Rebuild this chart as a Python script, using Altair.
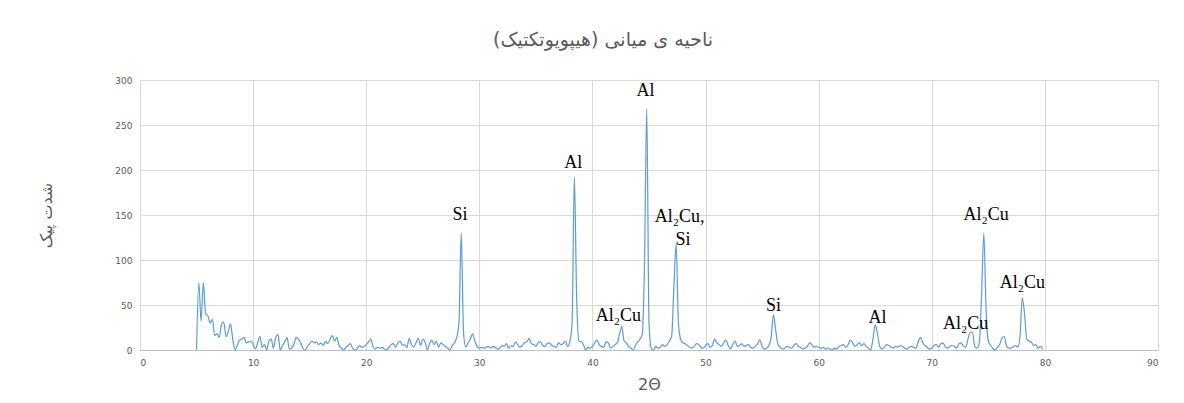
import altair as alt
import pandas as pd

# 2-theta sampling grid (start, step) and intensity values per degree (5 values: .0 .2 .4 .6 .8)
theta_start = 5.0
theta_step = 0.2
intensity_rows = [
    [0, 75, 32, 75, 40],      # 5
    [38, 30, 34, 16, 18],     # 6
    [14, 28, 31, 15, 20],     # 7
    [29, 12, 0, 5, 11],       # 8
    [12, 14, 8, 9, 10],       # 9
    [6, 1, 8, 15, 3],         # 10
    [6, 0, 10, 12, 2],        # 11
    [14, 17, 0, 5, 9],        # 12
    [14, 1, 2, 6, 14],        # 13
    [12, 8, 2, 0, 4],         # 14
    [7, 10, 8, 9, 6],         # 15
    [8, 5, 10, 7, 12],        # 16
    [16, 10, 14, 5, 2],       # 17
    [0, 3, 5, 7, 2],          # 18
    [0, 1, 5, 3, 4],          # 19
    [6, 9, 12, 4, 1],         # 20
    [3, 2, 3, 1, 0],          # 21
    [3, 6, 7, 3, 8],          # 22
    [10, 5, 6, 3, 13],        # 23
    [6, 3, 8, 13, 5],         # 24
    [12, 9, 0, 7, 11],        # 25
    [6, 10, 3, 8, 6],         # 26
    [4, 2, 0, 5, 8],          # 27
    [14, 30, 130, 20, 3],     # 28
    [8, 12, 18, 10, 4],       # 29
    [2, 3, 2, 3, 4],          # 30
    [2, 4, 3, 1, 2],          # 31
    [5, 4, 7, 2, 5],          # 32
    [4, 9, 6, 3, 5],          # 33
    [8, 9, 13, 7, 6],         # 34
    [4, 8, 9, 5, 4],          # 35
    [7, 8, 5, 4, 3],          # 36
    [8, 6, 7, 10, 4],         # 37
    [9, 30, 192, 60, 10],     # 38
    [9, 6, 0, 3, 2],          # 39
    [4, 8, 11, 6, 4],         # 40
    [3, 9, 8, 2, 4],          # 41
    [6, 8, 18, 26, 10],       # 42
    [8, 4, 2, 0, 5],          # 43
    [9, 12, 17, 95, 268],     # 44
    [30, 2, 0, 4, 2],         # 45
    [3, 6, 4, 6, 10],         # 46
    [15, 70, 118, 30, 12],    # 47
    [8, 7, 5, 3, 2],          # 48
    [4, 7, 6, 3, 2],          # 49
    [5, 7, 3, 5, 12],         # 50
    [8, 6, 4, 8, 11],         # 51
    [5, 1, 6, 10, 4],         # 52
    [5, 7, 4, 5, 6],          # 53
    [3, 2, 4, 7, 11],         # 54
    [4, 1, 2, 5, 14],         # 55
    [39, 22, 6, 3, 1],        # 56
    [2, 4, 3, 2, 5],          # 57
    [7, 4, 3, 1, 2],          # 58
    [4, 8, 6, 3, 4],          # 59
    [3, 2, 3, 1, 2],          # 60
    [1, 0, 2, 1, 4],          # 61
    [5, 6, 3, 6, 11],         # 62
    [8, 4, 6, 8, 5],          # 63
    [7, 4, 2, 0, 12],         # 64
    [28, 18, 4, 1, 3],        # 65
    [6, 5, 3, 2, 4],          # 66
    [3, 5, 4, 2, 1],          # 67
    [3, 4, 3, 2, 9],          # 68
    [14, 8, 5, 3, 1],         # 69
    [2, 5, 6, 3, 7],          # 70
    [8, 3, 2, 4, 5],          # 71
    [4, 2, 7, 8, 4],          # 72
    [3, 12, 20, 19, 4],       # 73
    [2, 8, 60, 130, 45],      # 74
    [10, 5, 2, 0, 3],         # 75
    [6, 13, 15, 5, 2],        # 76
    [2, 4, 5, 3, 15],         # 77
    [58, 40, 12, 10, 9],      # 78
    [5, 6, 2, 4, 1],          # 79
]

label_text = ["Si", "Al", "Al", "Al₂Cu", "Al₂Cu,", "Si", "Si", "Al", "Al₂Cu", "Al₂Cu", "Al₂Cu"]
label_x = [28.3, 38.3, 44.7, 42.3, 47.7, 48.0, 56.0, 65.2, 73.0, 74.8, 78.0]
label_y = [150, 208, 288, 38, 148, 122, 49, 36, 29, 150, 74]

x_ticks = [0, 10, 20, 30, 40, 50, 60, 70, 80, 90]
y_ticks = [0, 50, 100, 150, 200, 250, 300]

values = [v for row in intensity_rows for v in row]
thetas = [round(theta_start + theta_step * i, 2) for i in range(len(values))]
df = pd.DataFrame({"theta": thetas, "intensity": values})
labels = pd.DataFrame({"t": label_text, "x": label_x, "y": label_y})

grey = "#595959"
xscale = alt.Scale(domain=[0, 90], nice=False)
yscale = alt.Scale(domain=[0, 300], nice=False)

line = alt.Chart(df).mark_line(
    color="#5b9bd5", strokeWidth=1.2, interpolate="monotone"
).encode(
    x=alt.X("theta:Q", scale=xscale,
            axis=alt.Axis(values=x_ticks, title="2Θ", titleFont="DejaVu Sans",
                          titleFontSize=16, titleFontWeight="normal", titleColor=grey,
                          titlePadding=9, labelFontSize=9, labelColor=grey,
                          labelPadding=8, ticks=False, domainColor="#bfbfbf",
                          gridColor="#d9d9d9", labelFont="DejaVu Sans")),
    y=alt.Y("intensity:Q", scale=yscale,
            axis=alt.Axis(values=y_ticks, title="شدت پیک", titleFont="DejaVu Sans",
                          titleFontSize=16, titleFontWeight="normal", titleColor=grey,
                          titlePadding=60, labelFontSize=9, labelColor=grey,
                          labelPadding=8, ticks=False, domainColor="#d9d9d9",
                          gridColor="#d9d9d9", labelFont="DejaVu Sans")),
)

text = alt.Chart(labels).mark_text(
    font="Liberation Serif", fontSize=18, color="black", baseline="middle", align="center"
).encode(
    x=alt.X("x:Q", scale=xscale),
    y=alt.Y("y:Q", scale=yscale),
    text="t:N",
)

chart = alt.layer(line, text).properties(
    width=1018, height=270,
    title=alt.Title("ناحیه ی میانی (هیپویوتکتیک)", font="DejaVu Sans", fontSize=19,
                    fontWeight="normal", color=grey, anchor="middle", dx=-46, offset=26),
    autosize=alt.AutoSizeParams(type="none"),
    padding={"left": 132, "top": 72, "right": 18, "bottom": 45},
).configure_view(stroke=None).configure(background="white")

chart.save("out.html", embed_options={"renderer": "svg", "actions": False})
